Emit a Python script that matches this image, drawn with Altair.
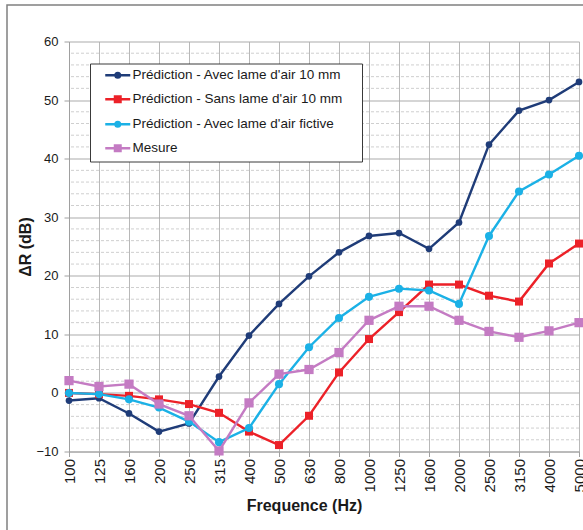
import altair as alt
import pandas as pd

# Third-octave band centre frequencies (Hz)
freqs = ["100", "125", "160", "200", "250", "315", "400", "500", "630", "800",
         "1000", "1250", "1600", "2000", "2500", "3150", "4000", "5000"]

# Sound reduction improvement ΔR (dB) per band
avec_10mm = [-1.3, -0.9, -3.5, -6.6, -5.2, 2.8, 9.8, 15.2, 19.9, 24.0,
             26.8, 27.3, 24.6, 29.1, 42.4, 48.2, 50.0, 53.1]
sans_10mm = [0.0, -0.2, -0.5, -1.1, -1.9, -3.4, -6.6, -8.9, -3.9, 3.5,
             9.2, 13.8, 18.5, 18.5, 16.6, 15.6, 22.1, 25.5]
fictive = [0.0, -0.2, -1.1, -2.5, -4.9, -8.4, -6.0, 1.5, 7.8, 12.8,
           16.4, 17.8, 17.5, 15.2, 26.8, 34.4, 37.3, 40.5]
mesure = [2.1, 1.1, 1.5, -1.9, -3.9, -9.9, -1.7, 3.2, 4.0, 6.9,
          12.4, 14.8, 14.8, 12.4, 10.5, 9.5, 10.6, 12.0]

series_names = [
    "Prédiction - Avec lame d'air 10 mm",
    "Prédiction - Sans lame d'air 10 mm",
    "Prédiction - Avec lame d'air fictive",
    "Mesure",
]
series_values = [avec_10mm, sans_10mm, fictive, mesure]
series_colors = ["#1F3C78", "#EC2128", "#1BB1E6", "#C47BC3"]
series_shapes = ["circle", "square", "circle", "square"]
marker_sizes = [45, 64, 65, 85]

# Legend symbols: a line segment with a (stroke-filled) marker in the middle
legend_paths = [
    "M-2.5,0H2.5M0.45,0A0.45,0.45,0,1,1,-0.45,0A0.45,0.45,0,1,1,0.45,0"
    "M0.2,0A0.2,0.2,0,1,1,-0.2,0A0.2,0.2,0,1,1,0.2,0",
    "M-2.5,0H2.5M-0.55,-0.55H0.55V0.55H-0.55ZM-0.25,-0.25H0.25V0.25H-0.25Z",
    "M-2.5,0H2.5M0.45,0A0.45,0.45,0,1,1,-0.45,0A0.45,0.45,0,1,1,0.45,0"
    "M0.2,0A0.2,0.2,0,1,1,-0.2,0A0.2,0.2,0,1,1,0.2,0",
    "M-2.5,0H2.5M-0.55,-0.55H0.55V0.55H-0.55ZM-0.25,-0.25H0.25V0.25H-0.25Z",
]

y_major = [-10, 0, 10, 20, 30, 40, 50, 60]
y_minor = [v for v in range(-8, 60, 2) if v % 10 != 0]

rows = []
for name, vals in zip(series_names, series_values):
    for f, v in zip(freqs, vals):
        rows.append({"freq": f, "dR": v, "serie": name})
df = pd.DataFrame(rows)

FONT = "Liberation Sans"
PLOT_W, PLOT_H = 510, 410
PAD_L, PAD_T = 69, 41.5

x_enc = alt.X(
    "freq:O",
    sort=freqs,
    scale=alt.Scale(type="point", padding=0),
    axis=alt.Axis(
        title="Frequence (Hz)",
        labelAngle=270, labelAlign="right", labelBaseline="middle",
        labelFontSize=15, labelPadding=2, labelColor="#1a1a1a",
        tickSize=5, tickColor="#A0A0A0", domainColor="#A0A0A0",
        grid=True, gridColor="#B8B8B8", gridWidth=1,
        titleFontSize=16, titleFontWeight="bold", titleColor="#1a1a1a",
        titleX=235, titleY=46, titleAlign="center", titleBaseline="top",
    ),
)
y_scale = alt.Scale(domain=[-10, 60], nice=False, zero=False)
y_axis = alt.Axis(
    values=y_major, title="ΔR (dB)",
    labelFontSize=13, labelPadding=6, labelColor="#1a1a1a",
    tickSize=5, tickColor="#A0A0A0", domainColor="#A0A0A0",
    grid=True, gridColor="#ABABAB", gridWidth=1,
    titleFontSize=16, titleFontWeight="bold", titleColor="#1a1a1a",
    titleAngle=270, titleX=-44, titleY=PLOT_H / 2,
    titleAlign="center", titleBaseline="middle",
)
y_enc = alt.Y("dR:Q", scale=y_scale, axis=y_axis)

# Dashed minor gridlines every 2 dB
minor = alt.Chart(pd.DataFrame({"dR": y_minor})).mark_rule(
    color="#CFCFCF", strokeDash=[3, 2], strokeWidth=1
).encode(y=y_enc)

base = alt.Chart(df)

layers = [minor]
for name, color, shape, size in zip(series_names, series_colors, series_shapes, marker_sizes):
    layer = base.transform_filter(alt.datum.serie == name).mark_line(
        color=color, strokeWidth=2.4,
        point=alt.OverlayMarkDef(filled=True, shape=shape, size=size, color=color, opacity=1),
    ).encode(x=x_enc, y=y_enc)
    layers.append(layer)

# The transparent title on the right only widens the legend box
legend_def = alt.Legend(
    title="mm", titleOrient="right", titlePadding=0, titleFontSize=8,
    titleColor="transparent",
    orient="none", legendX=21, legendY=22,
    padding=5, strokeColor="#3A3A3A", fillColor="white",
    labelFont=FONT, labelFontSize=13.5, labelColor="#1a1a1a",
    symbolSize=100, symbolStrokeWidth=2.5, symbolOffset=16,
    labelOffset=8, rowPadding=9, labelLimit=400,
)

# Legend carrier: no visible data, scales with fixed domains
legend_layer = base.transform_filter("false").mark_point(
    filled=False, size=100, strokeWidth=2.5, opacity=1
).encode(
    x=x_enc, y=y_enc,
    color=alt.Color("serie:N", scale=alt.Scale(domain=series_names, range=series_colors),
                    legend=legend_def),
    shape=alt.Shape("serie:N", scale=alt.Scale(domain=series_names, range=legend_paths),
                    legend=legend_def),
)
layers.append(legend_layer)

# Outer chart frame
frame = alt.Chart(pd.DataFrame({"k": [0]})).mark_rect(
    fill="transparent", stroke="#808080", strokeWidth=1.5
).encode(
    x=alt.value(7 - PAD_L), x2=alt.value(PLOT_W + 60),
    y=alt.value(5 - PAD_T), y2=alt.value(PLOT_H + 120),
)
layers.append(frame)

chart = alt.layer(*layers).properties(
    width=PLOT_W, height=PLOT_H,
    autosize=alt.AutoSizeParams(type="none"),
    padding={"left": PAD_L, "top": PAD_T, "right": 583 - PAD_L - PLOT_W, "bottom": 530 - PAD_T - PLOT_H},
    background="white",
).configure(font=FONT).configure_view(strokeWidth=0)

chart.save("out.html", embed_options={"renderer": "svg", "actions": False})
